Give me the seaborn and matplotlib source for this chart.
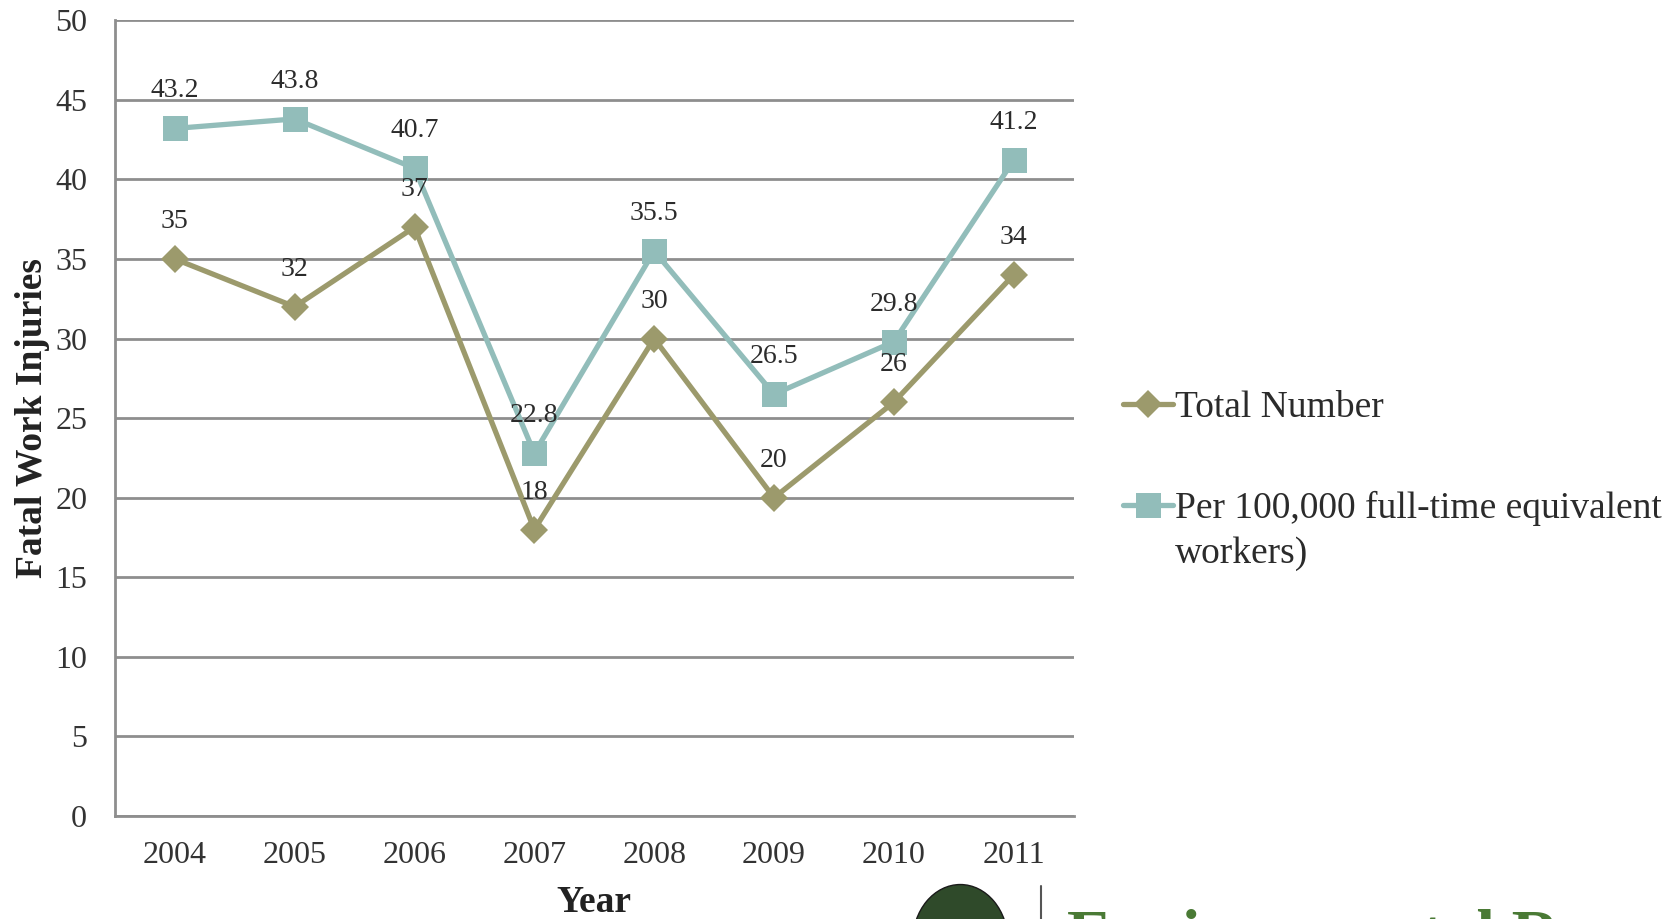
import matplotlib
matplotlib.use("Agg")
import matplotlib.pyplot as plt
import seaborn as sns
import pandas as pd
from matplotlib.lines import Line2D
from matplotlib.patches import Ellipse
from matplotlib.legend_handler import HandlerLine2D

years = ["2004", "2005", "2006", "2007", "2008", "2009", "2010", "2011"]
total_number = [35, 32, 37, 18, 30, 20, 26, 34]
per_100k = [43.2, 43.8, 40.7, 22.8, 35.5, 26.5, 29.8, 41.2]
total_labels = ["35", "32", "37", "18", "30", "20", "26", "34"]
per_labels = ["43.2", "43.8", "40.7", "22.8", "35.5", "26.5", "29.8", "41.2"]
series_names = ["Total Number", "Per 100,000 full-time equivalent\nworkers)"]
y_ticks = [0, 5, 10, 15, 20, 25, 30, 35, 40, 45, 50]

olive = "#9C9A6C"
teal = "#92BDBA"
grid_gray = "#8E8E8E"

sns.set_theme(style="white")
plt.rcParams["font.family"] = ["Liberation Serif", "DejaVu Serif"]

df = pd.DataFrame({
    "Year": years * 2,
    "value": total_number + per_100k,
    "series": [series_names[0]] * len(years) + [series_names[1]] * len(years),
})

fig = plt.figure(figsize=(16.73, 9.19), dpi=100)
ax = fig.add_axes([0.0687, 0.112, 0.573, 0.866])

sns.lineplot(data=df, x="Year", y="value", hue="series", style="series",
             palette={series_names[0]: olive, series_names[1]: teal},
             markers={series_names[0]: "D", series_names[1]: "s"},
             dashes=False, linewidth=3.8, markersize=16, markeredgewidth=0,
             sort=False, legend=False, ax=ax)
for line in ax.lines:
    if line.get_marker() == "s":
        line.set_markersize(18)
    else:
        line.set_markersize(14)

for i, (v, t) in enumerate(zip(total_number, total_labels)):
    ax.annotate(t, (i, v), xytext=(0, 27), textcoords="offset points",
                ha="center", va="center", fontsize=20, color="#2b2b2b")
for i, (v, t) in enumerate(zip(per_100k, per_labels)):
    ax.annotate(t, (i, v), xytext=(0, 27), textcoords="offset points",
                ha="center", va="center", fontsize=20, color="#2b2b2b")

ax.set_xlim(-0.5, len(years) - 0.5)
ax.set_ylim(0, 50)
ax.set_yticks(y_ticks)
ax.yaxis.grid(True, color=grid_gray, linewidth=2)
ax.xaxis.grid(False)
ax.set_axisbelow(True)
for s in ["top", "right"]:
    ax.spines[s].set_visible(False)
for s in ["left", "bottom"]:
    ax.spines[s].set_color(grid_gray)
    ax.spines[s].set_linewidth(2)
ax.tick_params(axis="both", length=0, labelsize=23, colors="#333333")
ax.tick_params(axis="y", pad=20)
ax.tick_params(axis="x", pad=18)

ax.set_xlabel("Year", fontsize=27, fontweight="bold", color="#222222", labelpad=11)
ax.set_ylabel("Fatal Work Injuries", fontsize=27, fontweight="bold", color="#222222", labelpad=4)


class OffsetLineHandler(HandlerLine2D):
    def __init__(self, dy=0, **kw):
        super().__init__(**kw)
        self.dy = dy

    def create_artists(self, legend, orig_handle, xdescent, ydescent, width, height,
                       fontsize, trans):
        return super().create_artists(legend, orig_handle, xdescent, ydescent - self.dy,
                                      width, height, fontsize, trans)


handles = [
    Line2D([], [], color=olive, linewidth=3.8, marker="D", markersize=14, markeredgewidth=0),
    Line2D([], [], color=teal, linewidth=3.8, marker="s", markersize=18, markeredgewidth=0),
]
leg = fig.legend(handles, series_names, loc="upper left", bbox_to_anchor=(0.651, 0.612),
                 frameon=False, fontsize=27, handlelength=1.35, handletextpad=0.05,
                 labelspacing=1.75, labelcolor="#2b2b2b",
                 handler_map={handles[1]: OffsetLineHandler(dy=37)})
for t in leg.get_texts():
    t.set_linespacing(1.4)

# partially visible logo at bottom right
fig.add_artist(Line2D([0.622, 0.622], [0.0, 0.036], color="#555555", linewidth=1.5,
                      transform=fig.transFigure))
fig.add_artist(Ellipse((0.574, -0.025), 0.057, 0.125, transform=fig.transFigure,
                       facecolor="#2f4a2a", edgecolor="#1a1a1a"))
fig.text(0.638, -0.055, "Environmental Research", fontsize=48, fontweight="bold",
         color="#4a7a35", ha="left", va="bottom")

fig.savefig("out.png", dpi=100)
